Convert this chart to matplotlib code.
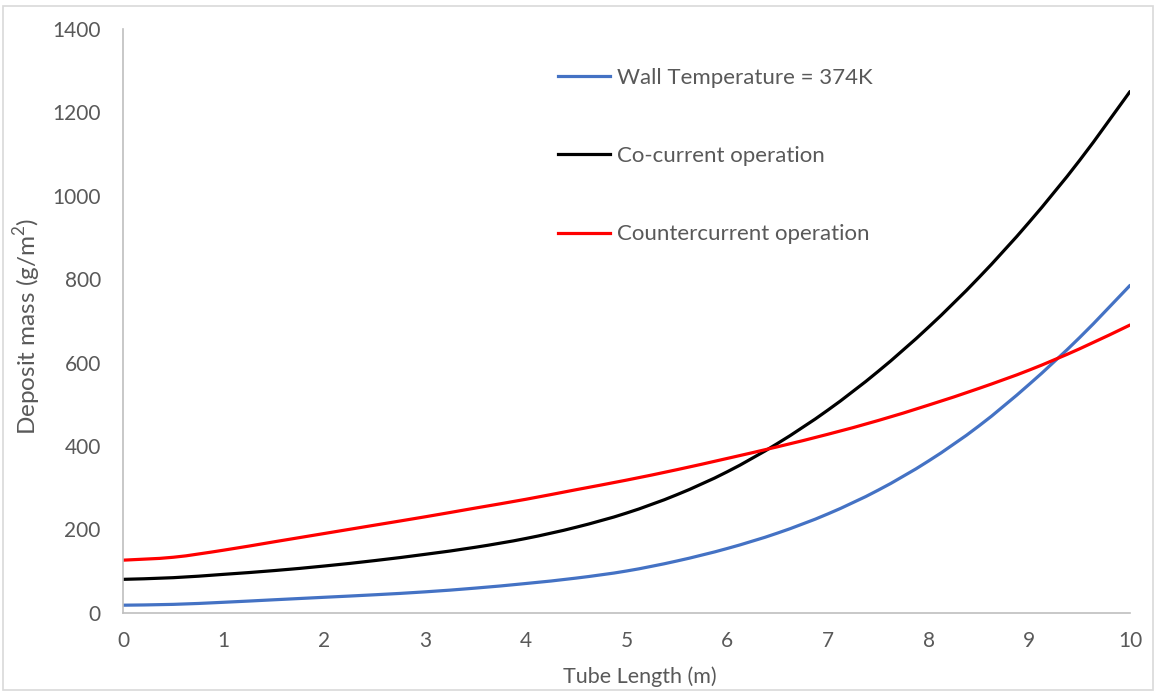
import matplotlib
matplotlib.use("Agg")
import matplotlib.pyplot as plt
from matplotlib.patches import Rectangle, PathPatch
from matplotlib.path import Path
from matplotlib.lines import Line2D

plt.rcParams['font.family'] = ['Lato', 'DejaVu Sans']
plt.rcParams['mathtext.fontset'] = 'custom'
plt.rcParams['mathtext.rm'] = 'Lato'

# Tube length (m) and deposit mass (g/m2)
tube_length = [0, 0.5, 1, 1.5, 2, 2.5, 3, 3.5, 4, 4.5, 5, 5.5, 6, 6.5, 7, 7.5, 8, 8.5, 9, 9.5, 10]
wall_temp = [18, 20, 25, 31, 37, 43, 50, 59, 70, 83, 100, 124, 154, 191, 237, 294, 364, 448, 548, 660, 785]
co_current = [80, 84, 92, 101, 112, 125, 140, 157, 178, 205, 239, 283, 338, 406, 486, 579, 685, 804, 937, 1085, 1250]
counter_current = [126, 133, 150, 170, 190, 210, 230, 251, 272, 295, 318, 343, 370, 398, 428, 461, 498, 538, 582, 633, 690]

series_labels = ["Wall Temperature = 374K", "Co-current operation", "Countercurrent operation"]
series_colors = ["#4472C4", "#000000", "#FF0000"]
x_ticks = list(range(0, 11))
y_ticks = list(range(0, 1401, 200))

text_grey = "#595959"
axis_grey = "#BFBFBF"


def smooth_path(xs, ys):
    # Excel-style smoothed line: Catmull-Rom segments as cubic Beziers
    verts = [(xs[0], ys[0])]
    codes = [Path.MOVETO]
    n = len(xs)
    for i in range(n - 1):
        x0, y0 = (xs[i - 1], ys[i - 1]) if i > 0 else (xs[i], ys[i])
        x1, y1 = xs[i], ys[i]
        x2, y2 = xs[i + 1], ys[i + 1]
        x3, y3 = (xs[i + 2], ys[i + 2]) if i + 2 < n else (x2, y2)
        c1 = (x1 + (x2 - x0) / 6, y1 + (y2 - y0) / 6)
        c2 = (x2 - (x3 - x1) / 6, y2 - (y3 - y1) / 6)
        verts += [c1, c2, (x2, y2)]
        codes += [Path.CURVE4] * 3
    return Path(verts, codes)


fig = plt.figure(figsize=(11.56, 6.92), dpi=100)
ax = fig.add_axes([123 / 1156, 1 - 612.7 / 692, (1130 - 123) / 1156, (612.7 - 29) / 692])

# light border round the whole chart
fig.patches.append(Rectangle((3 / 1156, 2 / 692), 1150 / 1156, 684 / 692, transform=fig.transFigure,
                             fill=False, edgecolor="#D9D9D9", linewidth=1.2))

handles = []
for ys, lab, col in zip([wall_temp, co_current, counter_current], series_labels, series_colors):
    ax.add_patch(PathPatch(smooth_path(tube_length, ys), facecolor="none", edgecolor=col,
                           linewidth=2.3, capstyle="round", transform=ax.transData))
    handles.append(Line2D([], [], color=col, linewidth=2.3, label=lab))

ax.set_xlim(0, 10)
ax.set_ylim(0, 1400)
ax.set_xticks(x_ticks)
ax.set_yticks(y_ticks)
ax.tick_params(length=0, labelsize=15, colors=text_grey)
ax.tick_params(axis="x", pad=13)
ax.tick_params(axis="y", pad=16)

for s in ["top", "right"]:
    ax.spines[s].set_visible(False)
for s in ["left", "bottom"]:
    ax.spines[s].set_color(axis_grey)
    ax.spines[s].set_linewidth(1.2)

ax.set_xlabel("Tube Length (m)", fontsize=15.5, color=text_grey)
ax.set_ylabel("Deposit mass (g/m$^2$)", fontsize=17.5, color=text_grey)
ax.xaxis.set_label_coords(0.513, -0.0913)
ax.yaxis.set_label_coords(-0.0794, 0.491)

leg = ax.legend(handles=handles, loc="upper left", bbox_to_anchor=(558 / 1156, 1 - 68 / 692),
                bbox_transform=fig.transFigure, frameon=False, fontsize=16, labelspacing=2.62,
                handlelength=2.35, handletextpad=0.3, borderpad=0, borderaxespad=0)
for t in leg.get_texts():
    t.set_color(text_grey)

fig.savefig("out.png", dpi=100)
